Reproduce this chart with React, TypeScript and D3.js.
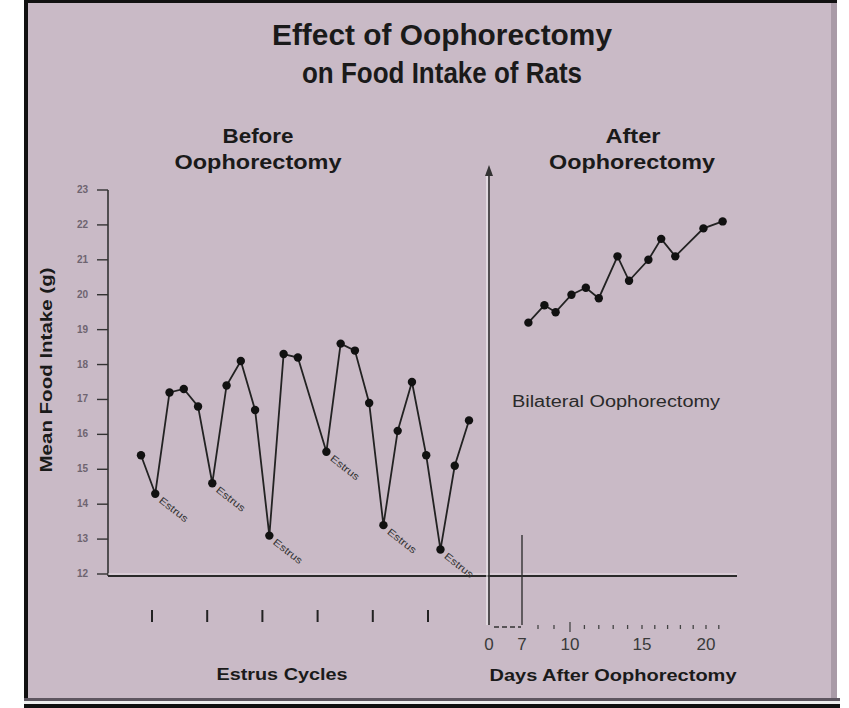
import React from 'react';
import * as d3 from 'd3';

const titleLines = ['Effect of Oophorectomy', 'on Food Intake of Rats'];
const beforeDay = [0, 1, 2, 3, 4, 5, 6, 7, 8, 9, 10, 11, 13, 14, 15, 16, 17, 18, 19, 20, 21, 22, 23];
const beforeIntake = [15.4, 14.3, 17.2, 17.3, 16.8, 14.6, 17.4, 18.1, 16.7, 13.1, 18.3, 18.2, 15.5, 18.6, 18.4, 16.9, 13.4, 16.1, 17.5, 15.4, 12.7, 15.1, 16.4];
const estrusDays = [1, 5, 9, 13, 17, 21];
const afterDay = [7.4, 8.4, 9.1, 10.1, 11.1, 12.0, 13.3, 14.1, 15.5, 16.5, 17.6, 19.8, 21.3];
const afterIntake = [19.2, 19.7, 19.5, 20.0, 20.2, 19.9, 21.1, 20.4, 21.0, 21.6, 21.1, 21.9, 22.1];
const yTicks = [12, 13, 14, 15, 16, 17, 18, 19, 20, 21, 22, 23];
const cycleTicks = [1, 2, 3, 4, 5, 6];
const dayLabels = [0, 7, 10, 15, 20];
const dayMinor = [8, 9, 10, 11, 12, 13, 14, 15, 16, 17, 18, 19, 20, 21];

const FF = "'Liberation Sans', Arial, Helvetica, sans-serif";
const BG = '#c9bac6';

export default function App() {
  const y = d3.scaleLinear().domain([12, 23]).range([574, 190]);
  const xb = d3.scaleLinear().domain([0, 23]).range([141, 469]);
  const xd = d3.scaleLinear().domain([0, 7, 10, 15, 20]).range([489, 522, 570, 642, 706]);
  const xc = d3.scaleLinear().domain([1, 6]).range([152, 428]);

  const before = beforeDay.map((d, i) => ({ d, v: beforeIntake[i] }));
  const after = afterDay.map((d, i) => ({ d, v: afterIntake[i] }));
  const lineB = d3.line<{ d: number; v: number }>().x(p => xb(p.d)).y(p => y(p.v));
  const lineA = d3.line<{ d: number; v: number }>().x(p => xd(p.d)).y(p => y(p.v));

  const axisX0 = 108;
  const axisY = y(12) + 2;
  const divX = xd(0);

  return (
    <svg width={849} height={708} style={{ position: 'absolute', left: 0, top: 0, background: '#fff' }}>
      {/* frame */}
      <rect x={24} y={0} width={813} height={704} fill={BG} />
      <rect x={24} y={0} width={813} height={3} fill="#111" />
      <rect x={24} y={0} width={4} height={708} fill="#111" />
      <rect x={831} y={3} width={6} height={697} fill="#a99ba7" />
      <rect x={24} y={698} width={816} height={3} fill="#5e5660" />
      <rect x={24} y={701} width={816} height={3} fill="#eee" />
      <rect x={24} y={704} width={816} height={4} fill="#111" />

      {/* title */}
      {titleLines.map((t, i) => (
        <text key={t} x={442} y={45 + i * 38} textAnchor="middle" fontFamily={FF} fontWeight="bold" fontSize={29}
          fill="#1a1a1a" textLength={i === 0 ? 340 : 280} lengthAdjust="spacingAndGlyphs">{t}</text>
      ))}

      {/* section headings */}
      <text x={258} y={143} textAnchor="middle" fontFamily={FF} fontWeight="bold" fontSize={20} fill="#1a1a1a" textLength={71} lengthAdjust="spacingAndGlyphs">Before</text>
      <text x={258} y={169} textAnchor="middle" fontFamily={FF} fontWeight="bold" fontSize={20} fill="#1a1a1a" textLength={167} lengthAdjust="spacingAndGlyphs">Oophorectomy</text>
      <text x={633} y={143} textAnchor="middle" fontFamily={FF} fontWeight="bold" fontSize={20} fill="#1a1a1a" textLength={55} lengthAdjust="spacingAndGlyphs">After</text>
      <text x={632} y={169} textAnchor="middle" fontFamily={FF} fontWeight="bold" fontSize={20} fill="#1a1a1a" textLength={166} lengthAdjust="spacingAndGlyphs">Oophorectomy</text>

      {/* y axis */}
      <line x1={axisX0} x2={axisX0} y1={y(23)} y2={axisY} stroke="#333" strokeWidth={1.6} />
      {yTicks.map(t => (
        <g key={t}>
          <line x1={axisX0 - 11} x2={axisX0} y1={y(t)} y2={y(t)} stroke="#333" strokeWidth={1.4} />
          <text x={88} y={y(t) + 3} textAnchor="end" fontFamily={FF} fontWeight="bold" fontSize={10} fill="#6e6470">{t}</text>
        </g>
      ))}
      <text transform={`translate(52, ${370}) rotate(-90)`} textAnchor="middle" fontFamily={FF} fontWeight="bold" fontSize={16}
        fill="#1a1a1a" textLength={205} lengthAdjust="spacingAndGlyphs">Mean Food Intake (g)</text>

      {/* x axis baseline */}
      <line x1={axisX0} x2={737} y1={axisY - 2} y2={axisY - 2} stroke="#e6dde4" strokeWidth={1} />
      <line x1={axisX0} x2={737} y1={axisY} y2={axisY} stroke="#2a2a2a" strokeWidth={2} />

      {/* divider with arrow */}
      <line x1={divX - 2} x2={divX - 2} y1={174} y2={625} stroke="#f2eef1" strokeWidth={1.2} />
      <line x1={divX} x2={divX} y1={170} y2={625} stroke="#333" strokeWidth={1.6} />
      <path d={`M${divX - 4},${176} L${divX},${165} L${divX + 4},${176} Z`} fill="#333" />
      <line x1={xd(7)} x2={xd(7)} y1={535} y2={625} stroke="#333" strokeWidth={1.4} />

      {/* estrus cycle ticks */}
      {cycleTicks.map(c => (
        <line key={c} x1={xc(c)} x2={xc(c)} y1={610} y2={622} stroke="#222" strokeWidth={2} />
      ))}
      <text x={282} y={680} textAnchor="middle" fontFamily={FF} fontWeight="bold" fontSize={17} fill="#1a1a1a" textLength={131} lengthAdjust="spacingAndGlyphs">Estrus Cycles</text>

      {/* days axis */}
      <line x1={xd(0) + 5} x2={xd(7) - 1} y1={627} y2={627} stroke="#333" strokeWidth={1.4} strokeDasharray="5 3" />
      {dayMinor.map(d => (
        <line key={d} x1={xd(d)} x2={xd(d)} y1={d === 10 ? 622 : 625} y2={d === 10 ? 632 : 629} stroke="#444" strokeWidth={1.3} />
      ))}
      {dayLabels.map(d => (
        <text key={d} x={xd(d)} y={650} textAnchor="middle" fontFamily={FF} fontSize={17} fill="#3a3a3a">{d}</text>
      ))}
      <text x={613} y={681} textAnchor="middle" fontFamily={FF} fontWeight="bold" fontSize={17} fill="#1a1a1a" textLength={247} lengthAdjust="spacingAndGlyphs">Days After Oophorectomy</text>

      <text x={616} y={407} textAnchor="middle" fontFamily={FF} fontSize={16} fill="#2a2a2a" textLength={208} lengthAdjust="spacingAndGlyphs">Bilateral Oophorectomy</text>

      {/* before series */}
      <path d={lineB(before) ?? ''} fill="none" stroke="#222" strokeWidth={1.8} />
      {before.map(p => (
        <circle key={p.d} cx={xb(p.d)} cy={y(p.v)} r={4.2} fill="#111" />
      ))}
      {estrusDays.map(d => {
        const p = before.find(b => b.d === d)!;
        return (
          <text key={d} transform={`translate(${xb(p.d) + 3}, ${y(p.v) + 8}) rotate(38)`} fontFamily={FF} fontSize={10}
            fill="#333" textLength={34} lengthAdjust="spacingAndGlyphs">Estrus</text>
        );
      })}

      {/* after series */}
      <path d={lineA(after) ?? ''} fill="none" stroke="#222" strokeWidth={1.8} />
      {after.map(p => (
        <circle key={p.d} cx={xd(p.d)} cy={y(p.v)} r={4.2} fill="#111" />
      ))}
    </svg>
  );
}
